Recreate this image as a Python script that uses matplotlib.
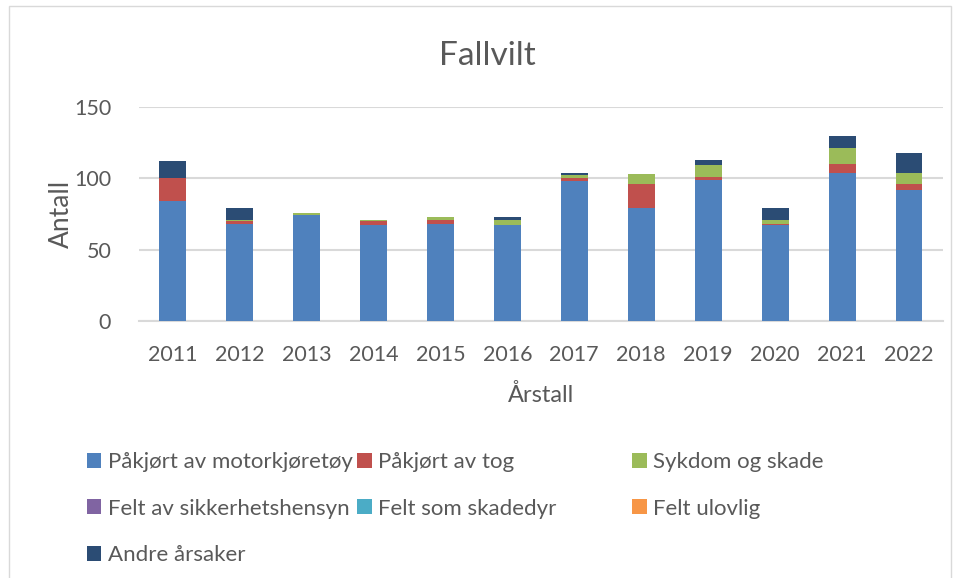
import matplotlib.pyplot as plt
import numpy as np
from matplotlib.patches import Rectangle

years = ["2011", "2012", "2013", "2014", "2015", "2016",
         "2017", "2018", "2019", "2020", "2021", "2022"]
motor = [84, 68, 74, 67, 68, 67, 98, 79, 99, 67, 104, 92]
tog = [16, 2, 0, 3, 3, 0, 2, 17, 2, 1, 6, 4]
sykdom = [0, 1, 2, 1, 2, 4, 2, 7, 8, 3, 11, 8]
sikkerhet = [0] * 12
skadedyr = [0] * 12
ulovlig = [0] * 12
andre = [12, 8, 0, 0, 0, 2, 2, 0, 4, 8, 9, 14]

series = [
    ("Påkjørt av motorkjøretøy", motor, "#4F81BD"),
    ("Påkjørt av tog", tog, "#C0504D"),
    ("Sykdom og skade", sykdom, "#9BBB59"),
    ("Felt av sikkerhetshensyn", sikkerhet, "#8064A2"),
    ("Felt som skadedyr", skadedyr, "#4BACC6"),
    ("Felt ulovlig", ulovlig, "#F79646"),
    ("Andre årsaker", andre, "#2B4C74"),
]

plt.rcParams['font.family'] = ['Lato', 'DejaVu Sans']
txt = "#595959"

fig = plt.figure(figsize=(9.55, 5.78), dpi=100)
ax = fig.add_axes([0.1455, 0.4446, 0.8415, 0.3703])

x = np.arange(len(years))
bottom = np.zeros(len(years))
handles = {}
for name, vals, col in series:
    b = ax.bar(x, vals, 0.4, bottom=bottom, color=col, label=name, zorder=3)
    handles[name] = b
    bottom += np.array(vals)

ax.set_xlim(-0.5, len(years) - 0.5)
ax.set_ylim(0, 150)
ax.set_yticks([0, 50, 100, 150])
ax.set_xticks(x)
ax.set_xticklabels(years)
ax.grid(axis='y', color='#D9D9D9', linewidth=1.5, zorder=0)
for s in ['left', 'right', 'top']:
    ax.spines[s].set_visible(False)
ax.spines['bottom'].set_color('#D9D9D9')
ax.spines['bottom'].set_linewidth(1.5)
ax.tick_params(length=0, labelsize=15.5, labelcolor=txt)
ax.tick_params(axis='y', pad=20)
ax.tick_params(axis='x', pad=17)
ax.set_ylabel("Antall", fontsize=19, color=txt, labelpad=0)
ax.set_xlabel("Årstall", fontsize=17, color=txt, labelpad=14)
fig.text(0.51, 0.903, "Fallvilt", ha='center', va='center', fontsize=24, color=txt)

cols = [
    (0.091, ["Påkjørt av motorkjøretøy", "Felt av sikkerhetshensyn", "Andre årsaker"]),
    (0.374, ["Påkjørt av tog", "Felt som skadedyr"]),
    (0.662, ["Sykdom og skade", "Felt ulovlig"]),
]
for xpos, names in cols:
    leg = fig.legend([handles[n] for n in names], names, loc='upper left',
                     bbox_to_anchor=(xpos, 0.218), frameon=False, fontsize=16,
                     handlelength=0.65, handleheight=0.65, handletextpad=0.3,
                     labelspacing=1.2, borderaxespad=0, borderpad=0)
    for t in leg.get_texts():
        t.set_color(txt)

fig.patches.append(Rectangle((0.009, -0.01), 0.987, 1.0, transform=fig.transFigure,
                             fill=False, edgecolor='#D9D9D9', linewidth=1))

fig.savefig("out.png", dpi=100)
